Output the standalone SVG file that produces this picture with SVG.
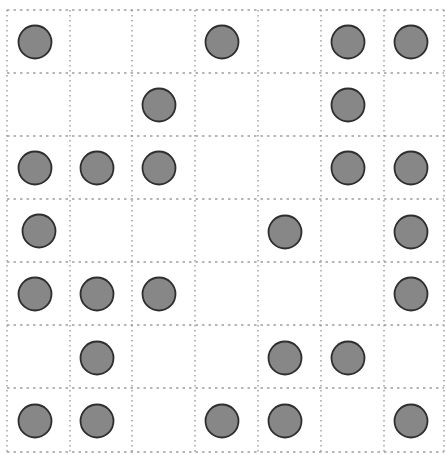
<svg xmlns="http://www.w3.org/2000/svg" width="446" height="455" viewBox="0 0 446 455">
<style>
.v{stroke:#8a8a8a;stroke-width:1.2;stroke-dasharray:1.5 3.5;fill:none}
.h{stroke:#6e6e6e;stroke-width:1.2;stroke-dasharray:2.5 4;fill:none}
.c{fill:#878787;stroke:#2e2e2e;stroke-width:1.8}
</style>
<rect width="446" height="455" fill="#fff"/>
<g id="grid">
<line class="h" x1="7" y1="10" x2="444" y2="10"/>
<line class="h" x1="7" y1="73" x2="444" y2="73"/>
<line class="h" x1="7" y1="136" x2="444" y2="136"/>
<line class="h" x1="7" y1="199" x2="444" y2="199"/>
<line class="h" x1="7" y1="262" x2="444" y2="262"/>
<line class="h" x1="7" y1="325" x2="444" y2="325"/>
<line class="h" x1="7" y1="388" x2="444" y2="388"/>
<line class="h" x1="7" y1="452" x2="444" y2="452"/>
<line class="v" x1="7" y1="10" x2="7" y2="452"/>
<line class="v" x1="70" y1="10" x2="70" y2="452"/>
<line class="v" x1="132" y1="10" x2="132" y2="452"/>
<line class="v" x1="195" y1="10" x2="195" y2="452"/>
<line class="v" x1="258" y1="10" x2="258" y2="452"/>
<line class="v" x1="321" y1="10" x2="321" y2="452"/>
<line class="v" x1="384" y1="10" x2="384" y2="452"/>
<line class="v" x1="444" y1="10" x2="444" y2="452"/>
</g>
<g id="dots">
<circle class="c" cx="35" cy="42" r="16.5"/>
<circle class="c" cx="222" cy="42" r="16.5"/>
<circle class="c" cx="348" cy="42" r="16.5"/>
<circle class="c" cx="411" cy="42" r="16.5"/>
<circle class="c" cx="159" cy="105" r="16.5"/>
<circle class="c" cx="348" cy="105" r="16.5"/>
<circle class="c" cx="35" cy="168" r="16.5"/>
<circle class="c" cx="97" cy="168" r="16.5"/>
<circle class="c" cx="159" cy="168" r="16.5"/>
<circle class="c" cx="348" cy="168" r="16.5"/>
<circle class="c" cx="411" cy="168" r="16.5"/>
<circle class="c" cx="39" cy="231" r="16.5"/>
<circle class="c" cx="285" cy="232" r="16.5"/>
<circle class="c" cx="411" cy="232" r="16.5"/>
<circle class="c" cx="35" cy="294" r="16.5"/>
<circle class="c" cx="97" cy="294" r="16.5"/>
<circle class="c" cx="159" cy="294" r="16.5"/>
<circle class="c" cx="411" cy="294" r="16.5"/>
<circle class="c" cx="97" cy="358" r="16.5"/>
<circle class="c" cx="285" cy="358" r="16.5"/>
<circle class="c" cx="348" cy="358" r="16.5"/>
<circle class="c" cx="35" cy="421" r="16.5"/>
<circle class="c" cx="97" cy="421" r="16.5"/>
<circle class="c" cx="222" cy="421" r="16.5"/>
<circle class="c" cx="285" cy="421" r="16.5"/>
<circle class="c" cx="411" cy="421" r="16.5"/>
</g>
</svg>
